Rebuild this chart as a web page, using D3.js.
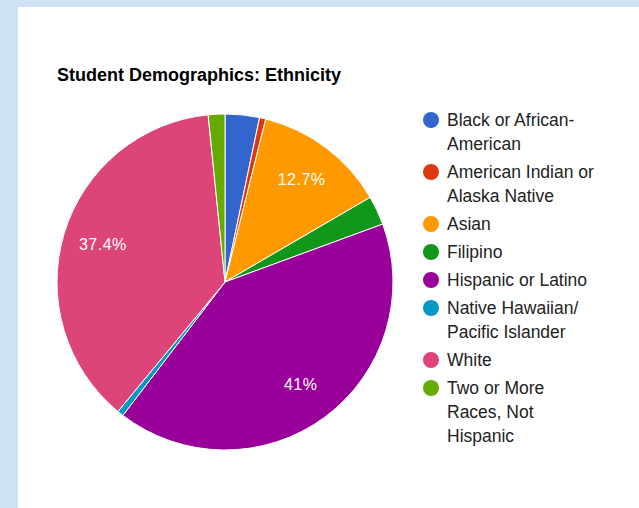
<!DOCTYPE html>
<html>
<head>
<meta charset="utf-8">
<script src="https://cdn.jsdelivr.net/npm/d3@7"></script>
<style>
  body { margin: 0; background: #cfe2f3; }
  svg { display: block; }
</style>
</head>
<body>
<div id="chart"></div>
<script>
// data
var categories = ["Black or African-American", "American Indian or Alaska Native", "Asian", "Filipino",
                  "Hispanic or Latino", "Native Hawaiian/ Pacific Islander", "White", "Two or More Races, Not Hispanic"];
var values = [3.3, 0.6, 12.7, 2.8, 41.0, 0.6, 37.4, 1.6];
var pctLabels = ["3.3%", "0.6%", "12.7%", "2.8%", "41%", "0.6%", "37.4%", "1.6%"];
var legendLines = [["Black or African-", "American"], ["American Indian or", "Alaska Native"], ["Asian"], ["Filipino"],
                   ["Hispanic or Latino"], ["Native Hawaiian/", "Pacific Islander"], ["White"], ["Two or More", "Races, Not", "Hispanic"]];
var colors = ["#3366cc", "#dc3912", "#ff9900", "#109618", "#990099", "#0099c6", "#dd4477", "#66aa00"];

var W = 639, H = 508;
var svg = d3.select("#chart").append("svg")
    .attr("width", W)
    .attr("height", H);

// white panel
svg.append("rect").attr("x", 18).attr("y", 7).attr("width", W - 18).attr("height", H - 7).attr("fill", "#fff");

// title
svg.append("text")
    .attr("x", 57).attr("y", 81)
    .style("font-family", "'Liberation Sans', Arial, sans-serif")
    .style("font-size", "18px")
    .style("font-weight", "bold")
    .attr("fill", "#000")
    .text("Student Demographics: Ethnicity");

var cx = 225, cy = 282, r = 168;
var g = svg.append("g").attr("transform", "translate(" + cx + "," + cy + ")");

var pie = d3.pie().sort(null).value(function(d) { return d; });
var arcs = pie(values);
var arc = d3.arc().innerRadius(0).outerRadius(r);
var labelArc = d3.arc().innerRadius(r * 0.76).outerRadius(r * 0.76);

g.selectAll("path.slice")
  .data(arcs)
  .enter()
  .append("path")
    .attr("class", "slice")
    .attr("d", arc)
    .attr("fill", function(d, i) { return colors[i]; })
    .attr("stroke", "#fff")
    .attr("stroke-width", 1);

// percent labels, only on the big slices
g.selectAll("text.pct")
  .data(arcs.filter(function(d) { return d.value >= 5; }))
  .enter()
  .append("text")
    .attr("class", "pct")
    .attr("transform", function(d) { return "translate(" + labelArc.centroid(d) + ")"; })
    .attr("text-anchor", "middle")
    .attr("dominant-baseline", "central")
    .style("font-family", "'Liberation Sans', Arial, sans-serif")
    .style("font-size", "16px")
    .style("letter-spacing", "0.5px")
    .attr("fill", "#fff")
    .text(function(d) { return pctLabels[d.index]; });

// legend
var lx = 431, ly = 120, lineH = 24, gap = 28;
var leg = svg.append("g");
var y = ly;
legendLines.forEach(function(lines, i) {
  leg.append("circle").attr("cx", lx).attr("cy", y).attr("r", 8).attr("fill", colors[i]);
  lines.forEach(function(t, j) {
    leg.append("text")
      .attr("x", lx + 16)
      .attr("y", y + j * lineH)
      .attr("dominant-baseline", "central")
      .style("font-family", "'Liberation Sans', Arial, sans-serif")
      .style("font-size", "17.5px")
      .attr("fill", "#222")
      .text(t);
  });
  y += (lines.length - 1) * lineH + gap;
});
</script>
</body>
</html>
